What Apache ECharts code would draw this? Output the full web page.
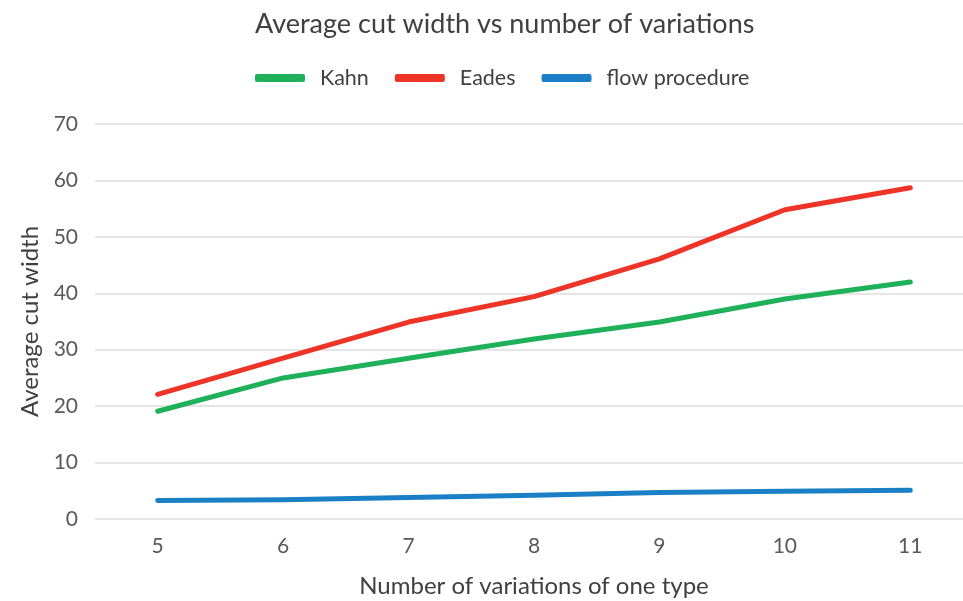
<!DOCTYPE html>
<html>
<head>
<meta charset="utf-8">
<script src="https://cdn.jsdelivr.net/npm/echarts@6/dist/echarts.min.js"></script>
<style>
  html, body { margin: 0; padding: 0; background: #fff; }
  #chart { width: 963px; height: 601px; }
</style>
</head>
<body>
<div id="chart"></div>
<script>
const categories = ['5', '6', '7', '8', '9', '10', '11']
const kahn = [19.1, 25.0, 28.5, 31.9, 34.9, 39.0, 42.0]
const eades = [22.1, 28.5, 34.9, 39.4, 46.1, 54.8, 58.7]
const flowProcedure = [3.3, 3.4, 3.8, 4.2, 4.7, 4.9, 5.1]
const yTicks = { min: 0, max: 70, interval: 10 }

const textColor = '#595959'
const fontFamily = 'Lato, "Open Sans", sans-serif'

const chart = echarts.init(document.getElementById('chart'))

function lineSeries(name, data, color) {
  return {
    name: name,
    type: 'line',
    data: data,
    symbol: 'none',
    lineStyle: { color: color, width: 5, cap: 'round', join: 'round' },
    itemStyle: { color: color }
  }
}

chart.setOption({
  backgroundColor: '#fff',
  animation: false,
  textStyle: { fontFamily: fontFamily },
  title: {
    text: 'Average cut width vs number of variations',
    left: 250,
    top: 6,
    textStyle: { fontFamily: fontFamily, fontSize: 27, fontWeight: 'normal', color: '#404040' }
  },
  legend: {
    left: 250,
    top: 62,
    itemWidth: 50,
    itemHeight: 8,
    itemGap: 26,
    icon: 'roundRect',
    textStyle: { fontFamily: fontFamily, fontSize: 21.5, color: '#404040', padding: [0, 0, 0, 10] },
    data: ['Kahn', 'Eades', 'flow procedure']
  },
  // the plot runs past the right edge of the canvas, as in the source
  grid: { left: 95, width: 878, top: 124, bottom: 82, containLabel: false, outerBoundsMode: 'none' },
  xAxis: {
    type: 'category',
    data: categories,
    boundaryGap: true,
    name: 'Number of variations of one type',
    nameLocation: 'middle',
    nameGap: 55,
    nameTextStyle: { fontFamily: fontFamily, fontSize: 24, color: '#404040' },
    axisLine: { show: false },
    axisTick: { show: false },
    axisLabel: { fontFamily: fontFamily, fontSize: 21, color: textColor, margin: 17 }
  },
  yAxis: {
    type: 'value',
    min: yTicks.min,
    max: yTicks.max,
    interval: yTicks.interval,
    name: 'Average cut width',
    nameLocation: 'middle',
    nameGap: 51,
    nameTextStyle: { fontFamily: fontFamily, fontSize: 24, color: '#404040' },
    axisLine: { show: false },
    axisTick: { show: false },
    axisLabel: { fontFamily: fontFamily, fontSize: 21, color: textColor, margin: 17 },
    splitLine: { lineStyle: { color: '#dcdcdc', width: 1.5 } }
  },
  series: [
    lineSeries('Kahn', kahn, '#1fb159'),
    lineSeries('Eades', eades, '#ee3427'),
    lineSeries('flow procedure', flowProcedure, '#1b7fc6')
  ]
})
</script>
</body>
</html>
